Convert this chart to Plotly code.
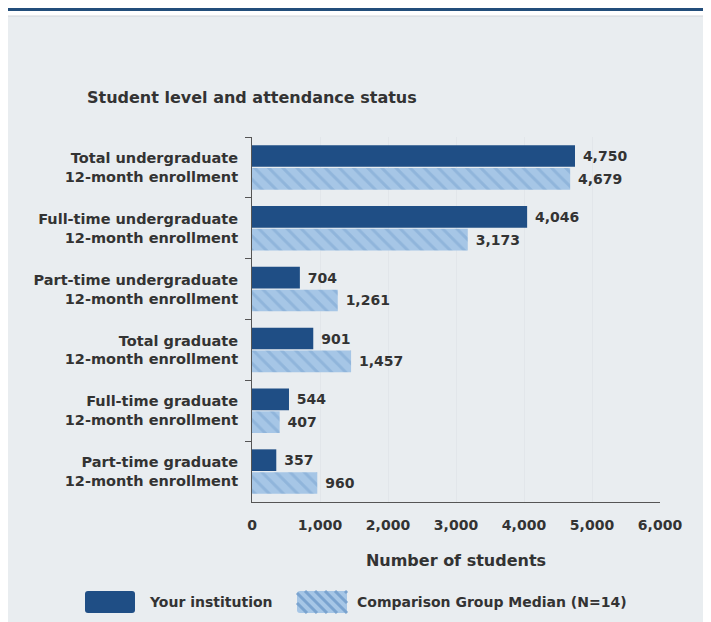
import plotly.graph_objects as go

categories = [
    "Total undergraduate<br>12-month enrollment",
    "Full-time undergraduate<br>12-month enrollment",
    "Part-time undergraduate<br>12-month enrollment",
    "Total graduate<br>12-month enrollment",
    "Full-time graduate<br>12-month enrollment",
    "Part-time graduate<br>12-month enrollment",
]
your_institution = [4750, 4046, 704, 901, 544, 357]
comparison_median = [4679, 3173, 1261, 1457, 407, 960]
x_ticks = [0, 1000, 2000, 3000, 4000, 5000, 6000]
x_tick_labels = ["0", "1,000", "2,000", "3,000", "4,000", "5,000", "6,000"]
series_names = ["Your institution", "Comparison Group Median (N=14)"]

# The page body has an 8px margin, so the figure is drawn 8px in from the page corner.
W, H = 703, 614
L, R, T, B = 244, 652, 129, 494
pw, ph = R - L, B - T


def px(x):
    return (x - L) / pw


def py(y):
    return (B - y) / ph


FONT = "DejaVu Sans"
TXT = "#333333"
DARK = "#1f4e85"
LIGHT = "#a6c6e6"
HATCH = "#7aa3cf"

fig = go.Figure()
fig.add_trace(go.Bar(
    y=categories, x=your_institution, orientation="h",
    name=series_names[0],
    marker=dict(color=DARK, line=dict(width=0)),
    texttemplate="\u00a0%{x:,}", textposition="outside",
    textfont=dict(family=FONT, size=14, color=TXT, weight="bold"),
    cliponaxis=False, showlegend=False,
))
fig.add_trace(go.Bar(
    y=categories, x=comparison_median, orientation="h",
    name=series_names[1],
    marker=dict(color=LIGHT, line=dict(width=0),
                pattern=dict(shape="\\", fgcolor=HATCH, bgcolor=LIGHT,
                             size=10, solidity=0.3)),
    texttemplate="\u00a0%{x:,}", textposition="outside",
    textfont=dict(family=FONT, size=14, color=TXT, weight="bold"),
    cliponaxis=False, showlegend=False,
))

shapes = []
# panel background and top band
shapes.append(dict(type="rect", xref="paper", yref="paper",
                   x0=px(-1), x1=px(W + 2), y0=py(8), y1=py(H + 2),
                   fillcolor="#e9edf0", line=dict(color="#d2d6da", width=1), layer="below"))
shapes.append(dict(type="rect", xref="paper", yref="paper",
                   x0=px(-2), x1=px(W + 2), y0=py(-2), y1=py(3),
                   fillcolor="#234e7b", line=dict(width=0), layer="below"))


def rounded(x0, y0, x1, y1, r=3):
    pts = (f"M {px(x0 + r)},{py(y0)} L {px(x1 - r)},{py(y0)} "
           f"Q {px(x1)},{py(y0)} {px(x1)},{py(y0 + r)} L {px(x1)},{py(y1 - r)} "
           f"Q {px(x1)},{py(y1)} {px(x1 - r)},{py(y1)} L {px(x0 + r)},{py(y1)} "
           f"Q {px(x0)},{py(y1)} {px(x0)},{py(y1 - r)} L {px(x0)},{py(y0 + r)} "
           f"Q {px(x0)},{py(y0)} {px(x0 + r)},{py(y0)} Z")
    return pts


# legend swatches (drawn manually for the large rounded keys)
sy0, sy1 = 583, 605
k1 = (77, 127)
k2 = (289, 339)
shapes.append(dict(type="path", xref="paper", yref="paper", path=rounded(k1[0], sy0, k1[1], sy1),
                   fillcolor=DARK, line=dict(width=0)))
shapes.append(dict(type="path", xref="paper", yref="paper", path=rounded(k2[0], sy0, k2[1], sy1),
                   fillcolor=LIGHT, line=dict(width=0)))
c = k2[0] - sy1
while c < k2[1] - sy0:
    ya = max(sy0, k2[0] - c)
    yb = min(sy1, k2[1] - c)
    if yb > ya:
        shapes.append(dict(type="line", xref="paper", yref="paper",
                           x0=px(c + ya), y0=py(ya), x1=px(c + yb), y1=py(yb),
                           line=dict(color=HATCH, width=3)))
    c += 10

annotations = [
    dict(text=f"<b>{series_names[0]}</b>", xref="paper", yref="paper",
         x=px(k1[1] + 12), y=py((sy0 + sy1) / 2), xanchor="left", yanchor="middle",
         showarrow=False, font=dict(family=FONT, size=14, color=TXT)),
    dict(text=f"<b>{series_names[1]}</b>", xref="paper", yref="paper",
         x=px(k2[1] + 8), y=py((sy0 + sy1) / 2), xanchor="left", yanchor="middle",
         showarrow=False, font=dict(family=FONT, size=14, color=TXT)),
]

fig.update_layout(
    width=W, height=H,
    margin=dict(l=L, r=W - R, t=T, b=H - B, autoexpand=False),
    paper_bgcolor="white",
    plot_bgcolor="#f4f6f8",
    barmode="group", bargap=0.25, bargroupgap=0.05,
    font=dict(family=FONT, size=14, color=TXT),
    title=dict(text="<b>Student level and attendance status</b>",
               font=dict(family=FONT, size=16, color=TXT),
               xref="container", yref="container",
               x=79 / W, y=1 - 89 / H, xanchor="left", yanchor="middle"),
    xaxis=dict(range=[0, 6000], tickvals=x_ticks, ticktext=x_tick_labels,
               showgrid=True, gridcolor="#e2e6ea", gridwidth=1,
               zeroline=False, showline=True, linecolor="#555", linewidth=1,
               ticks="outside", ticklen=10, tickcolor="rgba(0,0,0,0)",
               tickfont=dict(family=FONT, size=14, color=TXT, weight="bold"),
               title=dict(text="<b>Number of students</b>", standoff=23,
                          font=dict(family=FONT, size=16, color=TXT)),
               fixedrange=True),
    yaxis=dict(autorange="reversed", showline=True, linecolor="#555", linewidth=1,
               ticks="outside", ticklen=6, tickcolor="#555", tickson="boundaries",
               showgrid=False,
               tickfont=dict(family=FONT, size=14.5, color=TXT, weight="bold"),
               ticklabelstandoff=10, fixedrange=True),
    shapes=shapes,
    annotations=annotations,
    showlegend=False,
)

fig.write_html("out.html")
